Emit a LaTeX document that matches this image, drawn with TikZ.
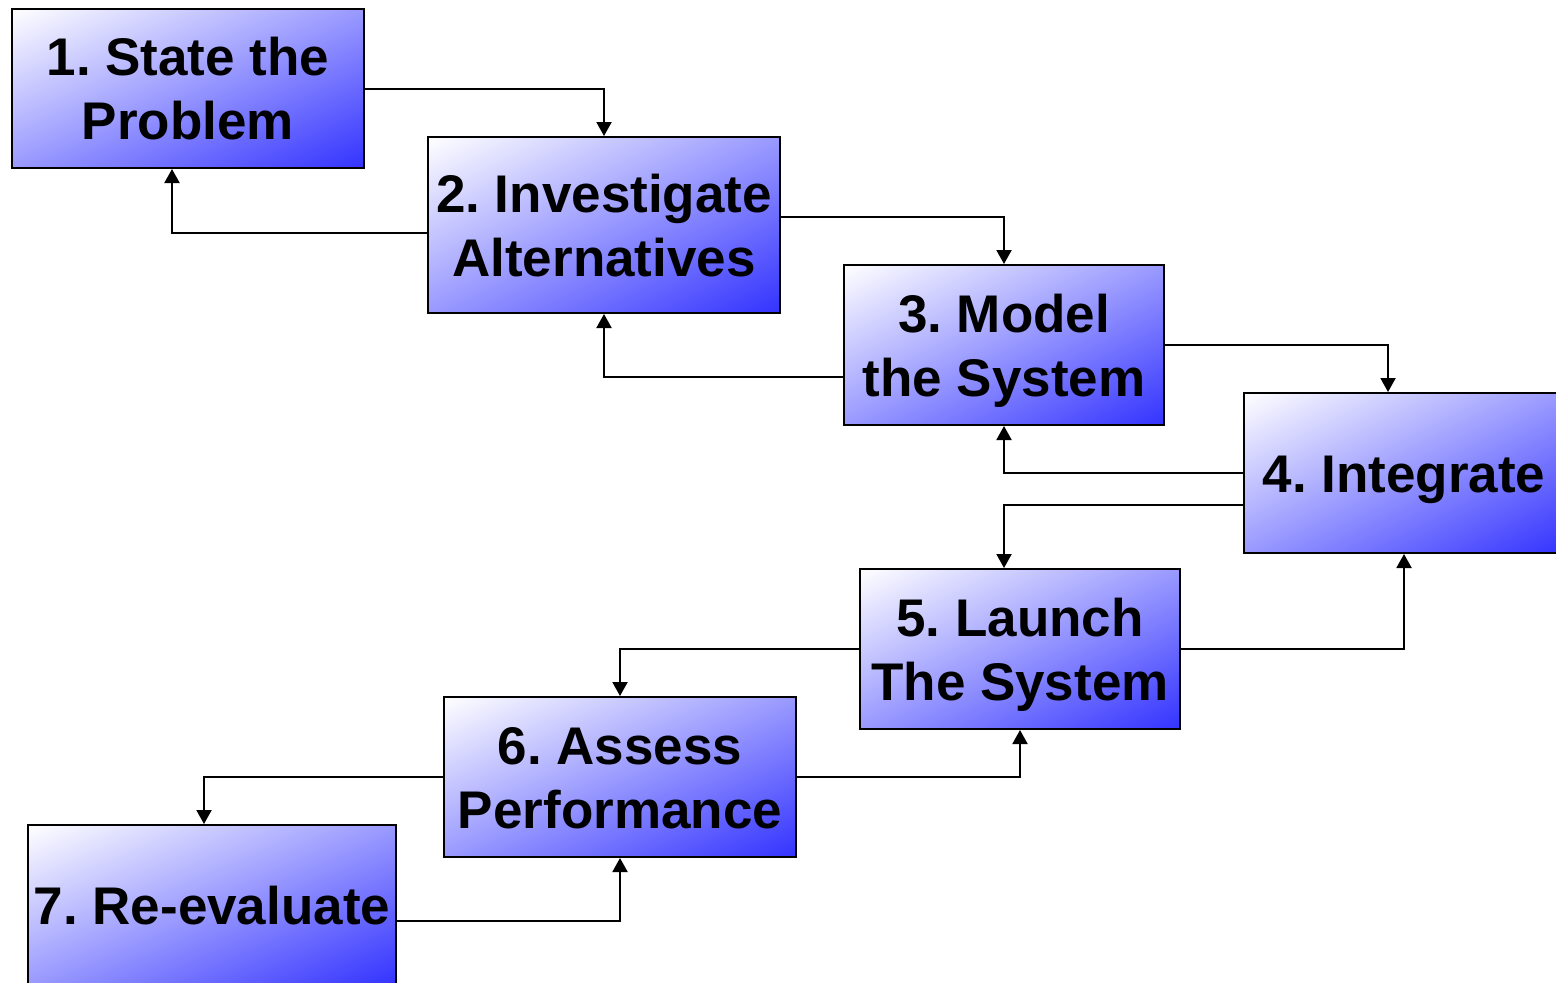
\documentclass[tikz,border=0pt]{standalone}
\usepackage{fontspec}
\setmainfont{Liberation Sans}
\frenchspacing
\usetikzlibrary{arrows.meta}
% white in the top left corner, blue in the bottom right one
\pgfdeclarefunctionalshading{stagefade}{\pgfpoint{-50bp}{-50bp}}{\pgfpoint{50bp}{50bp}}{}{
  exch sub neg 50 add 100 div dup 0 lt {pop 0} if dup 1 gt {pop 1} if 0.8 mul neg 1 add dup 1
}
\newcommand{\topstrut}{\rule{0pt}{25pt}}
\newcommand{\botstrut}{\rule[-5.6pt]{0pt}{0pt}}
\tikzstyle{stage}=[draw,line width=1pt,shading=stagefade,
                   align=center,inner sep=0pt,font=\fontsize{26.5}{32}\selectfont\bfseries]
\tikzstyle{link} = [draw,line width=1pt,-{Triangle[length=7pt,width=7.5pt]}]

\begin{document}
\begin{tikzpicture}[x=0.5pt,y=-0.5pt]
				\useasboundingbox (0,0) rectangle (1556,982);
				% First we draw the stages
				\foreach \pos/\name/\boxw/\boxh/\txt in {{(188,88.5)/s1/176/79.5/{1. State the\\Problem}},
										{(604,225)/s2/176/88/{2. Investigate\\Alternatives}},
										{(1004,345)/s3/160/80/{3. Model\\the System}},
										{(1404,473)/s4/160/80/{4. Integrate}},
										{(1020,649)/s5/160/80/{5. Launch\\The System}},
										{(620,777)/s6/176/80/{6. Assess\\Performance}},
										{(212,905)/s7/184/80/{7. Re-evaluate}}}
				\node[stage,minimum width=\boxw pt,minimum height=\boxh pt] (\name) at \pos {\topstrut\txt\botstrut};

				% Connect stages, going forward and back
				\foreach \source/\sy/\dest/\dx in {s1.east/0/s2.north/0, s2.west/-4/s1.south/-8,
										s2.east/4/s3.north/0, s3.west/-16/s2.south/0,
										s3.east/0/s4.north/-8, s4.west/0/s3.south/0,
										s4.west/-16/s5.north/-8, s5.east/0/s4.south/0,
										s5.west/0/s6.north/0, s6.east/0/s5.south/0,
										s6.west/0/s7.north/-4, s7.east/-8/s6.south/0}
				\path[link] ([yshift=\sy pt]\source) -| ([xshift=\dx pt]\dest);
\end{tikzpicture}
\end{document}
